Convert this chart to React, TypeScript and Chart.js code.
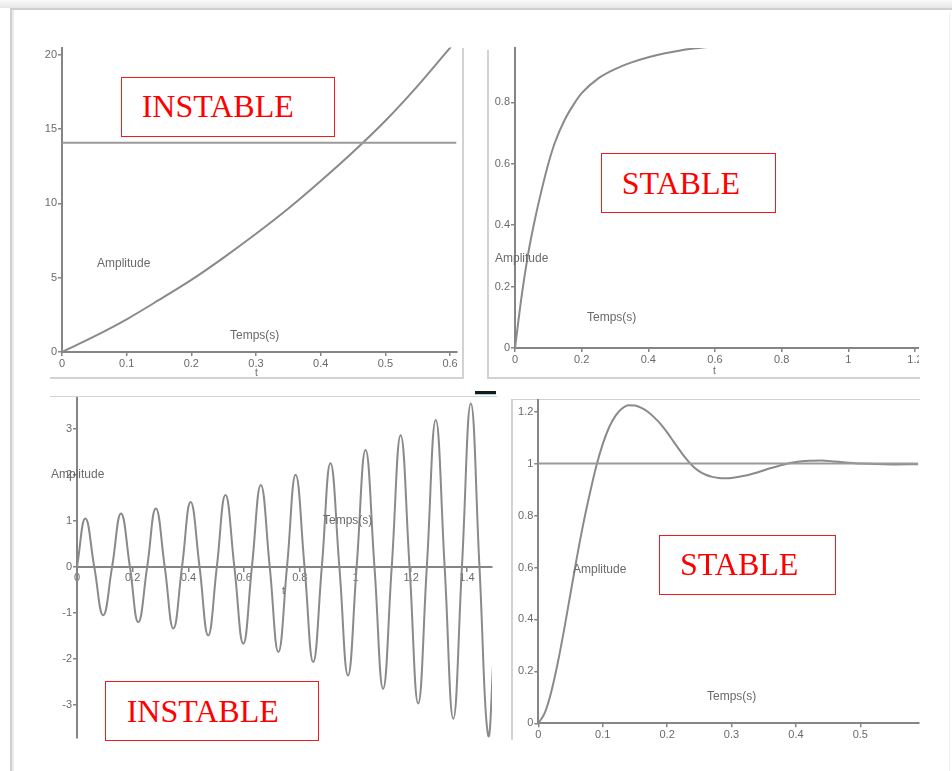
import React, { useEffect, useRef } from 'react';
import { Chart, registerables } from 'chart.js';

Chart.register(...registerables);

// ---------- Data ----------
// Panel 1 (top-left): unstable, growing response
const P1_T = [0, 0.05, 0.1, 0.15, 0.2, 0.25, 0.3, 0.35, 0.4, 0.45, 0.5, 0.55, 0.6, 0.61];
const P1_Y = [0, 1.05, 2.2, 3.5, 4.85, 6.35, 7.95, 9.65, 11.5, 13.45, 15.55, 17.9, 20.45, 20.95];
const P1_REF = 14.07;
const P1_X_TICKS = [0, 0.1, 0.2, 0.3, 0.4, 0.5, 0.6];
const P1_Y_TICKS = [0, 5, 10, 15, 20];

// Panel 2 (top-right): stable first order
const P2_T = [0, 0.02, 0.04, 0.06, 0.08, 0.1, 0.12, 0.15, 0.18, 0.2, 0.25, 0.3, 0.35, 0.4, 0.45, 0.5, 0.55, 0.6];
const P2_Y = [0, 0.17, 0.31, 0.42, 0.515, 0.6, 0.67, 0.745, 0.8, 0.83, 0.878, 0.908, 0.93, 0.947, 0.96, 0.97, 0.977, 0.983];
const P2_X_TICKS = [0, 0.2, 0.4, 0.6, 0.8, 1, 1.2];
const P2_Y_TICKS = [0, 0.2, 0.4, 0.6, 0.8];

// Panel 3 (bottom-left): growing oscillation (extrema and zero crossings)
const P3_T = [
  0, 0.03, 0.062, 0.094, 0.126, 0.158, 0.19, 0.22, 0.252, 0.283, 0.315, 0.346, 0.377, 0.408, 0.44,
  0.471, 0.502, 0.533, 0.565, 0.597, 0.628, 0.66, 0.692, 0.723, 0.754, 0.785, 0.817, 0.848, 0.879,
  0.91, 0.942, 0.973, 1.004, 1.036, 1.068, 1.099, 1.13, 1.162, 1.194, 1.225, 1.256, 1.288, 1.32,
  1.351, 1.382, 1.414, 1.445, 1.476, 1.499,
];
const P3_Y = [
  0, 1.05, 0, -1.05, 0, 1.16, 0, -1.2, 0, 1.27, 0, -1.34, 0, 1.41, 0,
  -1.49, 0, 1.56, 0, -1.67, 0, 1.78, 0, -1.85, 0, 2.0, 0, -2.07, 0,
  2.25, 0, -2.36, 0, 2.54, 0, -2.65, 0, 2.86, 0, -2.97, 0, 3.19, 0,
  -3.3, 0, 3.55, 0, -3.66, -1.49,
];
const P3_X_TICKS = [0, 0.2, 0.4, 0.6, 0.8, 1, 1.2, 1.4];
const P3_Y_TICKS = [-3, -2, -1, 0, 1, 2, 3];

// Panel 4 (bottom-right): stable second order with overshoot
const P4_T = [0, 0.01, 0.02, 0.03, 0.04, 0.05, 0.06, 0.07, 0.08, 0.09, 0.1, 0.11, 0.12, 0.13, 0.14, 0.15, 0.16, 0.17, 0.18, 0.19, 0.2, 0.21, 0.22, 0.23, 0.24, 0.25, 0.26, 0.27, 0.28, 0.29, 0.3, 0.32, 0.34, 0.36, 0.38, 0.4, 0.42, 0.44, 0.46, 0.5, 0.55, 0.59];
const P4_Y = [0, 0.04, 0.12, 0.23, 0.36, 0.5, 0.64, 0.77, 0.885, 0.99, 1.075, 1.14, 1.185, 1.212, 1.225, 1.224, 1.215, 1.2, 1.178, 1.152, 1.12, 1.085, 1.05, 1.017, 0.99, 0.97, 0.957, 0.949, 0.945, 0.944, 0.945, 0.953, 0.966, 0.982, 0.996, 1.006, 1.011, 1.012, 1.008, 1.0, 0.997, 0.998];
const P4_REF = 1;
const P4_X_TICKS = [0, 0.1, 0.2, 0.3, 0.4, 0.5];
const P4_Y_TICKS = [0, 0.2, 0.4, 0.6, 0.8, 1, 1.2];

// ---------- Styles ----------
const CURVE = '#8a8a8a';
const AXIS = '#858585';
const LABEL = '#6a6a6a';
const TICK_FONT = { family: '"Liberation Sans", Arial, sans-serif', size: 11 };

type Box = { x: number; y: number; w: number; h: number };
type Area = { l: number; t: number; r: number; b: number };

interface PanelProps {
  canvas: Box;
  clip: Box;
  area: Area;
  yW: number;
  xH: number | null; // null => x axis floats at y = 0
  xMin: number; xMax: number; yMin: number; yMax: number;
  xTicks: number[]; yTicks: number[];
  t: number[]; v: number[];
  refY?: number;
  smooth?: 'monotone' | 'bezier';
}

const fmt = (v: number) => String(Math.round(v * 10) / 10);

function Panel(p: PanelProps) {
  const ref = useRef<HTMLCanvasElement | null>(null);
  useEffect(() => {
    if (!ref.current) return;
    const floating = p.xH === null;
    const padding = {
      left: p.area.l - p.canvas.x - p.yW,
      top: p.area.t - p.canvas.y,
      right: p.canvas.x + p.canvas.w - p.area.r,
      bottom: p.canvas.y + p.canvas.h - p.area.b - (p.xH || 0),
    };
    const datasets: any[] = [];
    if (p.refY !== undefined) {
      datasets.push({
        data: [{ x: p.xMin, y: p.refY }, { x: p.xMax, y: p.refY }],
        borderColor: '#9a9a9a', borderWidth: 2, pointRadius: 0, fill: false,
      });
    }
    const curve: any = {
      data: p.t.map((x, i) => ({ x, y: p.v[i] })),
      borderColor: CURVE, borderWidth: 2, pointRadius: 0, fill: false,
    };
    if (p.smooth === 'bezier') {
      curve.tension = 0.45;
    } else {
      curve.cubicInterpolationMode = 'monotone';
    }
    datasets.push(curve);
    const grid = { display: true, drawOnChartArea: false, drawTicks: true, tickLength: 4, color: AXIS, lineWidth: 1.5 };
    const border = { display: true, color: AXIS, width: 2, dash: [2, 2] };
    const chart = new Chart(ref.current, {
      type: 'line',
      data: { datasets },
      options: {
        animation: false,
        responsive: false,
        maintainAspectRatio: false,
        events: [],
        layout: { padding },
        plugins: { legend: { display: false }, tooltip: { enabled: false } },
        scales: {
          x: {
            type: 'linear',
            min: p.xMin, max: p.xMax,
            position: floating ? { y: 0 } : 'bottom',
            afterBuildTicks: (s: any) => { s.ticks = p.xTicks.map((value) => ({ value })); },
            afterFit: (s: any) => { if (!floating) s.height = p.xH; },
            ticks: { font: TICK_FONT, color: LABEL, padding: 1, maxRotation: 0, autoSkip: false, callback: (v: any) => fmt(Number(v)) },
            grid, border,
          },
          y: {
            type: 'linear',
            min: p.yMin, max: p.yMax,
            position: 'left',
            afterBuildTicks: (s: any) => { s.ticks = p.yTicks.map((value) => ({ value })); },
            afterFit: (s: any) => { s.width = p.yW; },
            ticks: { font: TICK_FONT, color: LABEL, padding: 1, autoSkip: false, callback: (v: any) => fmt(Number(v)) },
            grid, border,
          },
        },
      } as any,
    });
    return () => chart.destroy();
  }, []);
  return (
    <div style={{ position: 'absolute', left: p.clip.x, top: p.clip.y, width: p.clip.w, height: p.clip.h, overflow: 'hidden' }}>
      <canvas
        ref={ref}
        width={p.canvas.w}
        height={p.canvas.h}
        style={{ position: 'absolute', left: p.canvas.x - p.clip.x, top: p.canvas.y - p.clip.y, width: p.canvas.w, height: p.canvas.h }}
      />
    </div>
  );
}

const txt = (s: string, left: number, cy: number, size = 12) => (
  <div key={s + left} style={{ position: 'absolute', left, top: cy - size * 0.6, fontFamily: '"Liberation Sans", Arial, sans-serif', fontSize: size, lineHeight: `${size * 1.2}px`, color: LABEL, whiteSpace: 'nowrap' }}>{s}</div>
);

const redBox = (label: string, x: number, y: number, w: number, h: number, tx: number, base: number) => (
  <React.Fragment key={label + x}>
    <div style={{ position: 'absolute', left: x, top: y, width: w, height: h, boxSizing: 'border-box', border: '1.5px solid #ee1c1c', background: '#fff' }} />
    <div style={{ position: 'absolute', left: tx, top: base - 26.8, fontFamily: '"Liberation Serif", "Times New Roman", serif', fontSize: 32, lineHeight: '32px', color: '#ff0000', whiteSpace: 'nowrap' }}>{label}</div>
  </React.Fragment>
);

const line = (x: number, y: number, w: number, h: number, c = '#d2d2d2') => (
  <div style={{ position: 'absolute', left: x, top: y, width: w, height: h, background: c }} />
);

export default function App() {
  return (
    <div style={{ position: 'absolute', left: 0, top: 0, width: 952, height: 771, overflow: 'hidden', background: '#fff' }}>
      {/* page frame */}
      <div style={{ position: 'absolute', left: 0, top: 0, width: 952, height: 8, background: 'linear-gradient(#fafafa, #e6e6e6)' }} />
      {line(10, 8, 942, 2, '#cfcfcf')}
      {line(10, 8, 2, 763, '#cfcfcf')}
      {line(12, 10, 2, 761, '#ececec')}
      {line(949, 13, 1, 758, '#f0f0f0')}

      {/* panel frames */}
      {line(462, 48, 2, 331)}
      {line(50, 377, 414, 2)}
      {line(487, 50, 2, 329)}
      {line(487, 377, 433, 2)}
      {line(50, 396, 447, 1)}
      {line(511, 399, 2, 341)}
      {line(511, 399, 409, 1)}

      <Panel
        canvas={{ x: 20, y: 28, w: 450, h: 362 }} clip={{ x: 20, y: 28, w: 450, h: 362 }}
        area={{ l: 62, t: 47.6, r: 456.5, b: 352 }} yW={30} xH={26}
        xMin={0} xMax={0.61} yMin={0} yMax={20.47}
        xTicks={P1_X_TICKS} yTicks={P1_Y_TICKS} t={P1_T} v={P1_Y} refY={P1_REF}
      />
      <Panel
        canvas={{ x: 470, y: 28, w: 470, h: 362 }} clip={{ x: 470, y: 28, w: 449, h: 362 }}
        area={{ l: 515, t: 48, r: 920, b: 348 }} yW={28} xH={26}
        xMin={0} xMax={1.215} yMin={0} yMax={0.977}
        xTicks={P2_X_TICKS} yTicks={P2_Y_TICKS} t={P2_T} v={P2_Y}
      />
      <Panel
        canvas={{ x: 20, y: 385, w: 490, h: 375 }} clip={{ x: 20, y: 385, w: 490, h: 375 }}
        area={{ l: 77, t: 398, r: 492, b: 738 }} yW={30} xH={null}
        xMin={0} xMax={1.49} yMin={-3.72} yMax={3.67}
        xTicks={P3_X_TICKS} yTicks={P3_Y_TICKS} t={P3_T} v={P3_Y} smooth="bezier"
      />
      <Panel
        canvas={{ x: 500, y: 385, w: 440, h: 375 }} clip={{ x: 500, y: 385, w: 421, h: 375 }}
        area={{ l: 538.3, t: 400, r: 918.3, b: 723.3 }} yW={30} xH={26}
        xMin={0} xMax={0.59} yMin={0} yMax={1.245}
        xTicks={P4_X_TICKS} yTicks={P4_Y_TICKS} t={P4_T} v={P4_Y} refY={P4_REF}
      />

      {/* in-plot axis captions */}
      {txt('Amplitude', 97, 263)}
      {txt('Temps(s)', 230, 335)}
      {txt('t', 255, 373, 10)}
      {txt('Amplitude', 495, 258)}
      {txt('Temps(s)', 587, 317)}
      {txt('t', 713, 371, 10)}
      {txt('Amplitude', 51, 474)}
      {txt('Temps(s)', 323, 520)}
      {txt('t', 282, 591, 10)}
      {txt('Amplitude', 573, 569)}
      {txt('Temps(s)', 707, 696)}

      {/* small dash between panels */}
      {line(475, 391, 21, 3, '#1a1a1a')}
      {line(475, 394, 21, 1, '#9fd3e0')}

      {/* labels */}
      {redBox('INSTABLE', 121, 77, 214, 60, 141.7, 116.7)}
      {redBox('STABLE', 601, 153, 175, 60, 621.7, 193.3)}
      {redBox('INSTABLE', 105, 681, 214, 60, 126.7, 721.7)}
      {redBox('STABLE', 659, 535, 177, 60, 680, 575)}
    </div>
  );
}
